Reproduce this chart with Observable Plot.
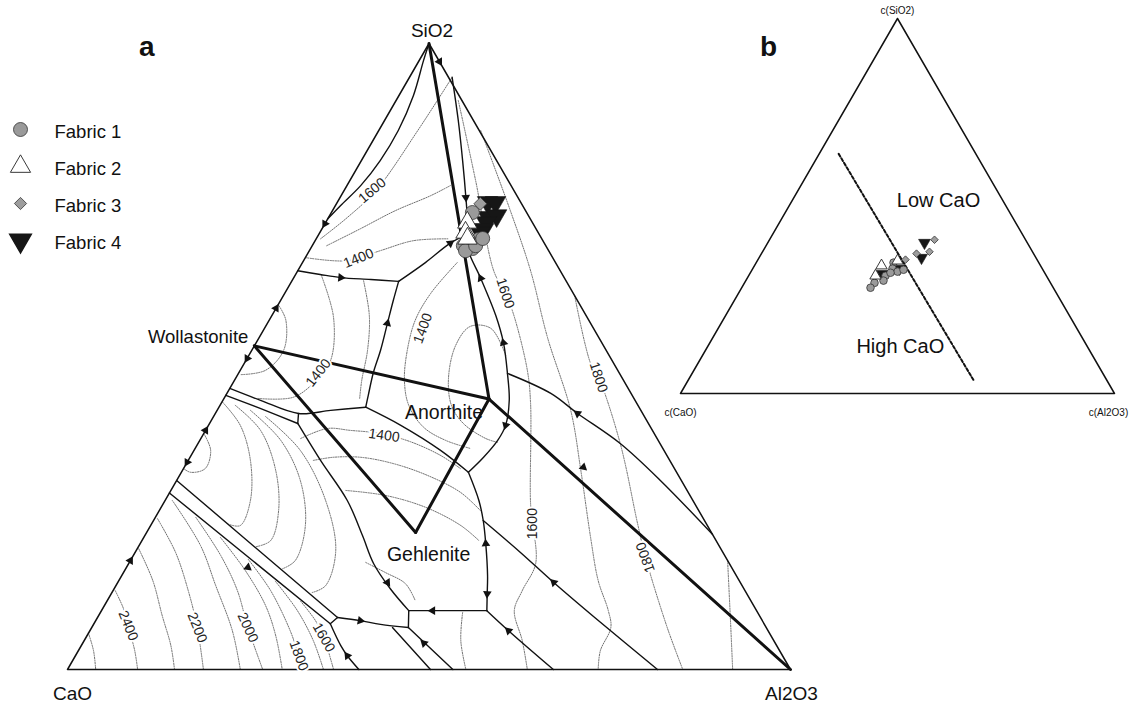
<!DOCTYPE html>
<html><head><meta charset="utf-8">
<script src="https://cdn.jsdelivr.net/npm/d3@7"></script>
<script src="https://cdn.jsdelivr.net/npm/@observablehq/plot@0.6"></script>
<style>
body{margin:0;background:#fff;font-family:"Liberation Sans",Arial,sans-serif;}
#wrap{position:relative;width:1142px;height:705px;overflow:hidden;background:#fff;}
.abs{position:absolute;line-height:0;}
.panel{font-weight:bold;font-size:28px;color:#111;line-height:1;}
</style></head><body><div id="wrap"></div>
<script>
// ---------------- DATA (compositions in wt%: [Al2O3, SiO2], CaO = rest) ----------------
const cornerNames = ["CaO", "Al2O3", "SiO2"];
const cornerComp = [[0, 0], [100, 0], [0, 100]];

const phaseNames = ["Wollastonite", "Anorthite", "Gehlenite"];
const phaseComp = [[0, 51.7], [36.7, 43.2], [37.2, 21.9]];

// compatibility joins (thick): SiO2-An, Wo-An, Wo-Geh, Geh-An, An-Al2O3
const joins = [[[0,100],[36.7,43.2]], [[0,51.7],[36.7,43.2]], [[0,51.7],[37.2,21.9]], [[37.2,21.9],[36.7,43.2]], [[36.7,43.2],[100,0]]];

// field boundaries (solid)
const bImmiscibility = [[0,100],[0.6,97.3],[2.0,91.7],[2.7,86.1],[2.6,81.3],[1.9,77.3],[0.7,74.1],[0,72.0]];
const bTridymiteMullite = [[5.9,94.6],[10.2,87.7],[14.0,81.3],[17.4,75.4],[19.9,70.9],[20.5,69.5]];
const bTridymiteAnorthite = [[14.8,62.0],[17.0,65.0],[18.9,68.1],[20.5,69.5]];
const bAnorthiteMullite = [[20.5,69.5],[22.0,66.9],[25.9,62.5],[31.0,56.5],[34.2,52.2],[37.2,47.3],[39.6,43.0],[41.1,39.0],[41.2,36.6],[40.6,33.9],[39.7,31.5]];
const bTridymiteWollastonite = [[0,63.7],[3.4,63.1],[6.5,62.6],[10.8,62.3],[14.8,62.0]];
const bWollastoniteAnorthite = [[14.8,62.0],[15.6,58.9],[16.6,55.3],[17.8,51.0],[18.6,47.4],[19.7,43.8],[20.3,41.9]];
const bWollastoniteGehlenite = [[0,44.9],[5.2,43.0],[11.5,40.9],[15.7,41.4],[20.3,41.9]];
const bRankinite = [[0,43.8],[5.8,41.7],[12.2,39.3]];
const bRankiniteLink = [[11.5,40.9],[12.2,39.3]];
const bAnorthiteGehlenite = [[20.3,41.9],[26.6,39.0],[34.1,35.0],[39.7,31.5]];
const bLarniteGehlenite = [[12.2,39.3],[18.3,33.4],[25.2,27.0],[30.1,21.4],[33.9,16.9],[38.2,12.9],[42.5,9.4]];
const bGehleniteCorundum = [[39.7,31.5],[43.4,27.0],[45.6,23.8],[47.8,20.1],[50.6,15.0],[52.0,12.1],[53.3,9.4]];
const bSpinel = [[45.6,23.8],[53.3,18.7],[60.3,13.9],[70.0,7.5],[81.6,0]];
const bMulliteCorundum = [[37.2,47.3],[44.8,44.1],[50.1,40.9],[58.4,36.1],[66.9,30.2],[78.4,21.6]];
const bAluminate1 = [[42.5,9.4],[53.3,9.4]];
const bAluminate2 = [[42.5,9.4],[43.8,6.7]];
const bAluminate3 = [[33.2,8.3],[36.6,7.8],[39.7,7.2],[43.8,6.7]];
const bAluminate4 = [[41.6,6.7],[50.2,0]];
const bAluminate5 = [[43.8,6.7],[53.3,0]];
const bAluminate6 = [[53.3,9.4],[57.9,6.2],[67.2,0]];
const bLarniteLime1 = [[0,30.2],[33.2,8.3]];
const bLarniteLime2 = [[0,28.2],[32.7,7.3]];
const bLarniteLink = [[32.7,7.3],[33.2,8.3]];
const bLimeAluminate = [[32.7,7.3],[35.9,3.8],[37.6,2.2],[40.3,0]];

// isotherms (dotted)
const t2500 = [[0,5.8],[2.1,3.0],[3.9,0]];
const t2400 = [[0.3,12.6],[2.9,9.7],[5.1,6.7],[7.8,3.0],[9.7,0]];
const t2300 = [[0.2,19.3],[4.7,14.2],[8.8,8.6],[12.4,3.8],[14.8,0]];
const t2200 = [[0.4,24.1],[5.6,18.7],[10.4,12.6],[14.6,6.7],[18.8,0]];
const t2100 = [[1.0,27.0],[8.5,19.8],[13.8,13.4],[19.7,6.2],[23.9,0]];
const t2000 = [[5.6,24.3],[12.1,18.2],[17.2,12.6],[21.6,6.7],[27.0,0]];
const t1900 = [[10.6,21.1],[16.7,15.8],[22.3,10.2],[26.1,5.4],[29.7,0]];
const t1800 = [[16.2,17.6],[21.8,12.6],[27.7,6.2],[30.5,2.7],[32.6,0]];
const t1700 = [[21.7,14.1],[27.1,9.4],[31.7,4.6],[35.4,0]];
const t1600 = [[26.8,10.9],[30.4,7.8],[32.9,5.1],[36.8,0]];
const c2s1 = [[0,37.7],[2.3,35.0],[3.0,32.1],[1.3,31.5],[0,32.1]];
const c2s2 = [[0.1,42.7],[4.4,39.0],[8.6,33.4],[11.8,27.0],[12.4,23.0],[10.7,23.2]];
const c2s3 = [[2.1,42.2],[7.6,38.2],[12.9,31.8],[16.5,25.4],[17.8,20.6],[16.2,19.6]];
const c2s4 = [[4.6,41.4],[11.2,36.6],[17.1,30.2],[21.4,23.0],[22.8,17.4],[21.7,16.1]];
const c2s5 = [[7.2,40.4],[14.7,35.0],[22.2,27.0],[27.6,19.0],[29.0,13.4],[27.7,12.3]];
const wo1 = [[0.2,58.1],[2.3,55.8],[4.4,51.0],[3.5,47.8],[0.4,47.1]];
const wo2 = [[3.6,63.0],[8.7,56.2],[11.7,49.4],[11.3,46.2],[9.5,43.5],[4.7,43.3]];
const wo3 = [[9.9,62.1],[13.5,56.5],[16.0,51.0],[17.6,46.2],[18.8,43.2]];
const tr1400 = [[0,65.8],[6.1,65.3],[9.8,66.9],[13.6,68.5],[18.2,68.8]];
const tr1500 = [[2.0,67.7],[5.3,70.4],[8.7,73.3],[12.4,75.7],[14.3,77.3]];
const tr1600 = [[0.6,68.8],[2.6,72.2],[4.4,76.5],[5.4,86.1],[5.9,94.6]];
const an1 = [[21.4,65.0],[20.2,60.1],[20.2,55.8],[21.5,51.0],[23.5,46.2],[26.1,42.2],[29.9,38.7],[34.0,36.6],[38.1,35.3]];
const an2 = [[35.5,50.2],[31.3,54.5],[28.3,54.8],[27.8,51.8],[29.4,46.6],[32.0,42.2],[35.1,39.3],[39.4,36.9],[41.3,36.3]];
const ge1 = [[13.8,36.9],[16.7,38.5],[20.0,38.2],[24.4,37.7],[29.2,36.4],[34.5,34.2],[38.3,32.1]];
const ge2 = [[17.3,33.4],[19.8,33.9],[23.6,33.9],[28.6,32.9],[34.3,31.0],[40.2,28.3],[44.4,25.4]];
const ge3 = [[24.2,28.6],[30.1,27.8],[36.6,25.9],[42.9,23.0],[46.6,20.6]];
const ge4 = [[32.7,17.1],[36.2,15.5],[39.9,13.7],[42.6,11.0]];
const r1600 = [[8.6,90.9],[17.4,78.1],[27.1,63.7],[30.5,60.1],[33.2,56.9],[39.7,47.8],[42.8,42.5],[50.8,26.5],[52.7,23.3],[56.3,16.9],[56.6,12.6],[57.1,9.4],[60.6,4.6],[63.6,0]];
const r1700 = [[14.1,86.1],[24.6,73.3],[32.2,63.7],[39.9,53.0],[48.9,41.4],[55.1,31.8],[61.8,21.1],[66.3,14.2],[70.1,9.4],[71.8,6.7],[72.2,3.0],[73.4,0]];
const r1800 = [[40.3,59.7],[47.9,48.9],[50.1,46.7],[58.4,36.1],[67.2,23.3],[71.0,17.9],[79.6,6.7],[85.1,0]];
const r1900 = [[82.6,17.4],[87.8,7.8],[92.0,0]];
const al1 = [[50.1,9.1],[52.1,4.6],[55.1,0]];

// isotherm labels
const isoLabelText = ["1600","1400","1400","1400","1400","1600","1800","1600","1800","2400","2200","2000","1800","1600"];
const isoLabelComp = [[3.9,76.5],[7.4,65.7],[21.9,54.5],[11.0,47.4],[25.1,37.4],[30.5,60.1],[50.1,46.7],[52.7,23.3],[71.0,17.9],[4.9,7.0],[14.6,6.7],[21.6,6.7],[30.9,2.2],[32.9,5.1]];

// crystallisation-path arrows: position and direction of decreasing temperature
const arrowAt = [[2.9,97.1],[17.4,75.4],[0,71.2],[6.5,62.6],[16.6,55.3],[18.9,68.1],[25.9,62.5],[34.2,52.2],[41.1,39.0],[50.1,40.9],[55.2,32.3],[60.3,13.9],[47.8,20.1],[52.0,12.1],[45.8,9.4],[57.9,6.2],[47.2,4.2],[37.3,13.9],[36.6,7.8],[37.6,2.2],[16.8,16.3],[0,38.2],[0,33.1],[0,17.4],[0,57.7],[0,49.7]];
const arrowToward = [[1,-1],[2.5,-4.5],[0,-1],[7.3,-0.8],[-1,3.6],[1.6,2.3],[-3.9,4.4],[-3.2,4.3],[1.5,-6.4],[-5.3,3.2],[63.3,-43.2],[-7,4.9],[-2.1,3.7],[1.2,-2.7],[-1,0],[-4.6,3.2],[-9.4,6.7],[4.3,-4],[3,-0.6],[-1.8,1.6],[32.7,-20.9],[0,1],[0,-1],[0,1],[0,1],[0,-1]];

// samples, panel a
const fabricNames = ["Fabric 1","Fabric 2","Fabric 3","Fabric 4"];
const fabric1 = [[19.5,73.0],[22.5,68.7],[21.5,68.2],[20.9,67.7],[22.4,67.25],[21.6,66.9],[22.6,67.7],[23.0,68.85]];
const fabric2 = [[19.6,71.4],[20.15,69.8],[20.9,68.85]];
const fabric3 = [[19.9,74.4],[19.65,73.0]];
const fabric4 = [[20.8,74.6],[21.9,74.6],[22.1,72.2],[23.1,72.5],[22.25,71.4],[22.4,70.3],[22.2,69.8]];

// samples, panel b: [c(Al2O3), c(SiO2)] %
const bFabric1 = [[31.63,34.9],[32.2,33.3],[33.75,32.5],[34.88,33.0],[31.54,31.4],[31.72,30.1],[29.95,29.5],[29.68,28.2],[32.29,32.2]];
const bFabric2 = [[32.3,35.4],[29.26,34.1],[29.23,31.4]];
const bFabric3 = [[38.03,41.0],[38.47,37.8],[35.73,37.3],[33.99,35.7]];
const bFabric4 = [[36.12,40.2],[37.43,36.2],[33.81,33.3],[30.59,31.9]];
const bDivide = [[4.5,63.9],[65.8,3.5]];
const bCornerNames = ["c(CaO)","c(Al2O3)","c(SiO2)"];
const bRegionNames = ["Low CaO","High CaO"];
const bRegionComp = [[33.75,51.4],[44.4,12.5]];

// ---------------- PROJECTION ----------------
const R3 = Math.sqrt(3) / 2;
const proj = ([a, s]) => ({x: a + s / 2, y: s * R3});
function rowsOf(named) {
  const out = [];
  for (const [name, arr] of Object.entries(named)) arr.forEach(p => out.push({name, ...proj(p)}));
  return out;
}
const FONT = "Liberation Sans, Arial, Helvetica, sans-serif";

const boundaryRows = rowsOf({bImmiscibility,bTridymiteMullite,bTridymiteAnorthite,bAnorthiteMullite,bTridymiteWollastonite,bWollastoniteAnorthite,bWollastoniteGehlenite,bRankinite,bRankiniteLink,bAnorthiteGehlenite,bLarniteGehlenite,bGehleniteCorundum,bSpinel,bMulliteCorundum,bAluminate1,bAluminate2,bAluminate3,bAluminate4,bAluminate5,bAluminate6,bLarniteLime1,bLarniteLime2,bLarniteLink,bLimeAluminate});
const isoRows = rowsOf({t2500,t2400,t2300,t2200,t2100,t2000,t1900,t1800,t1700,t1600,c2s1,c2s2,c2s3,c2s4,c2s5,wo1,wo2,wo3,tr1400,tr1500,tr1600,an1,an2,ge1,ge2,ge3,ge4,r1600,r1700,r1800,r1900,al1});
const joinRows = [];
joins.forEach((j, i) => j.forEach(p => joinRows.push({name: "j" + i, ...proj(p)})));
const frame = [cornerComp[0], cornerComp[1], cornerComp[2], cornerComp[0]].map(proj);

const labelRot = [-40,-22,-70,-52,8,72,72,-90,-110,68,68,65,70,60];
const isoLabels = isoLabelText.map((t, i) => ({text: t, rot: labelRot[i], ...proj(isoLabelComp[i])}));

const arrows = arrowAt.map((p, i) => {
  const [da, ds] = arrowToward[i];
  const dx = da + ds / 2, dy = -ds * R3;
  return {...proj(p), rot: Math.atan2(dy, dx) * 180 / Math.PI + 90};
});

const phaseRows = phaseNames.map((n, i) => ({name: n, ...proj(phaseComp[i])}));
const cornerRows = cornerNames.map((n, i) => ({name: n, ...proj(cornerComp[i])}));

// sample styles
function fabricMarks(sets, sz) {
  const [f1, f2, f3, f4] = sets.map(s => s.map(proj));
  return [
    Plot.dot(f4, {x: "x", y: "y", symbol: "triangle", rotate: 180, r: sz.t4, fill: "#161616", stroke: "#161616", strokeWidth: 0.6}),
    Plot.dot(f3, {x: "x", y: "y", symbol: "diamond2", r: sz.d, fill: "#9d9d9d", stroke: "#333", strokeWidth: 0.8}),
    Plot.dot(f1, {x: "x", y: "y", symbol: "circle", r: sz.c, fill: "#9a9a9a", stroke: "#333", strokeWidth: 0.8}),
    Plot.dot(f2, {x: "x", y: "y", symbol: "triangle", r: sz.t2, fill: "#fff", stroke: "#222", strokeWidth: 0.9})
  ];
}

function offsetTexts(svg, offsets) {
  svg.querySelectorAll("text").forEach(t => {
    const o = offsets[t.textContent];
    if (o) { t.setAttribute("dx", o[0]); t.setAttribute("dy", o[1]); t.setAttribute("dominant-baseline", "middle"); }
  });
}

const wrap = document.getElementById("wrap");
function place(node, left, top) {
  const d = document.createElement("div");
  d.className = "abs"; d.style.left = left + "px"; d.style.top = top + "px";
  if (node.style) node.style.display = "block";
  d.appendChild(node); wrap.appendChild(d); return d;
}

// ---------------- PANEL A ----------------
const plotA = Plot.plot({
  width: 800, height: 705,
  marginLeft: 67, marginRight: 10, marginTop: 43, marginBottom: 36,
  x: {domain: [0, 100], axis: null},
  y: {domain: [0, 100 * R3], axis: null},
  style: {fontFamily: FONT, background: "transparent", overflow: "visible"},
  marks: [
    Plot.line(isoRows, {x: "x", y: "y", z: "name", curve: "catmull-rom", stroke: "#555", strokeWidth: 0.85, strokeDasharray: "1.2,1.3"}),
    Plot.line(boundaryRows, {x: "x", y: "y", z: "name", curve: "catmull-rom", stroke: "#111", strokeWidth: 1.4, strokeLinejoin: "round"}),
    Plot.line(frame, {x: "x", y: "y", stroke: "#111", strokeWidth: 1.5}),
    Plot.line(joinRows, {x: "x", y: "y", z: "name", stroke: "#111", strokeWidth: 3, strokeLinejoin: "round"}),
    Plot.dot(arrows, {x: "x", y: "y", symbol: "triangle", r: 3.2, rotate: "rot", fill: "#111", stroke: "none"}),
    Plot.text(isoLabels, {x: "x", y: "y", text: "text", rotate: "rot", fontSize: 14, fill: "#222", stroke: "white", strokeWidth: 4, paintOrder: "stroke"}),
    ...fabricMarks([fabric1, fabric2, fabric3, fabric4], {c: 7, t2: 7.2, d: 5.8, t4: 7.6}),
    Plot.text(phaseRows.filter(d => d.name === "Wollastonite"), {x: "x", y: "y", text: "name", fontSize: 18.5, fill: "#111", textAnchor: "end"}),
    Plot.text(phaseRows.filter(d => d.name !== "Wollastonite"), {x: "x", y: "y", text: "name", fontSize: 19.5, fill: "#111", textAnchor: "middle"}),
    Plot.text(cornerRows, {x: "x", y: "y", text: "name", fontSize: 19, fill: "#111"})
  ]
});
offsetTexts(plotA, {
  "Wollastonite": [-6, -14], "Anorthite": [-45, 9], "Gehlenite": [13, 17],
  "CaO": [5, 19], "Al2O3": [1, 19], "SiO2": [3, -18]
});
place(plotA, 0, 0);

// ---------------- LEGEND ----------------
const legendRows = fabricNames.map(n => ({name: n}));
const legend = Plot.plot({
  width: 170, height: 160, margin: 0,
  x: {type: "linear", domain: [0, 1], range: [20, 150], axis: null},
  y: {type: "point", domain: fabricNames, range: [20, 133], padding: 0, axis: null},
  style: {fontFamily: FONT, background: "transparent", overflow: "visible"},
  marks: [
    Plot.dot(legendRows.filter(d => d.name === "Fabric 1"), {x: () => 0, y: "name", symbol: "circle", r: 7, fill: "#9a9a9a", stroke: "#333", strokeWidth: 0.8}),
    Plot.dot(legendRows.filter(d => d.name === "Fabric 2"), {x: () => 0, y: "name", symbol: "triangle", r: 7.5, fill: "#fff", stroke: "#222", strokeWidth: 0.9}),
    Plot.dot(legendRows.filter(d => d.name === "Fabric 3"), {x: () => 0, y: "name", symbol: "diamond2", r: 5.5, fill: "#9d9d9d", stroke: "#333", strokeWidth: 0.8}),
    Plot.dot(legendRows.filter(d => d.name === "Fabric 4"), {x: () => 0, y: "name", symbol: "triangle", rotate: 180, r: 8, fill: "#161616", stroke: "#161616"}),
    Plot.text(legendRows, {x: () => 0, y: "name", text: "name", dx: 34, dy: 3, textAnchor: "start", fontSize: 18.5, fill: "#111"})
  ]
});
place(legend, 0, 108);

// ---------------- PANEL B ----------------
const bCorners = bCornerNames.map((n, i) => ({name: n, ...proj(cornerComp[i])}));
const bRegions = bRegionNames.map((n, i) => ({name: n, ...proj(bRegionComp[i])}));
const plotB = Plot.plot({
  width: 482, height: 430,
  marginLeft: 20, marginRight: 28, marginTop: 18, marginBottom: 37,
  x: {domain: [0, 100], axis: null},
  y: {domain: [0, 100 * R3], axis: null},
  style: {fontFamily: FONT, background: "transparent", overflow: "visible"},
  marks: [
    Plot.line(frame, {x: "x", y: "y", stroke: "#111", strokeWidth: 1.5}),
    Plot.line(bDivide.map(proj), {x: "x", y: "y", stroke: "#111", strokeWidth: 2, strokeDasharray: "3,2.2"}),
    Plot.text(bRegions, {x: "x", y: "y", text: "name", fontSize: 20, fill: "#111"}),
    ...fabricMarks([bFabric1, bFabric2, bFabric3, bFabric4], {c: 3.8, t2: 4.2, d: 3.4, t4: 4.4}),
    Plot.text(bCorners, {x: "x", y: "y", text: "name", fontSize: 10, fill: "#111"})
  ]
});
offsetTexts(plotB, {"c(CaO)": [0, 17], "c(Al2O3)": [-6, 17], "c(SiO2)": [0, -10]});
place(plotB, 660, 0);

// panel letters
const la = document.createElement("div"); la.className = "panel"; la.textContent = "a";
place(la, 139, 33);
const lb = document.createElement("div"); lb.className = "panel"; lb.textContent = "b";
place(lb, 760, 33);
</script></body></html>
